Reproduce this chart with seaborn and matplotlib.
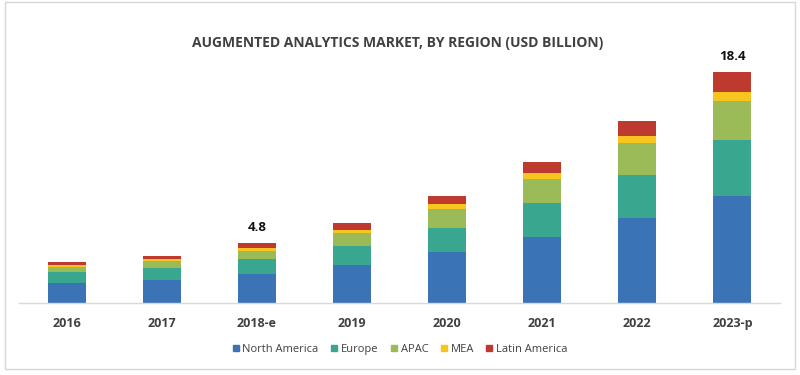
import numpy as np
import pandas as pd
import matplotlib.pyplot as plt
import seaborn as sns
from matplotlib.patches import Rectangle
from matplotlib.lines import Line2D

# ---------------------------------------------------------
# Data (USD billion)
# ---------------------------------------------------------
years = ['2016', '2017', '2018-e', '2019', '2020', '2021', '2022', '2023-p']
regions = ['North America', 'Europe', 'APAC', 'MEA', 'Latin America']

north_america = [1.64, 1.86, 2.31, 3.05, 4.06, 5.31, 6.77, 8.55]
europe = [0.83, 0.93, 1.20, 1.51, 1.96, 2.66, 3.45, 4.46]
apac = [0.45, 0.58, 0.69, 1.06, 1.49, 1.94, 2.57, 3.13]
mea = [0.13, 0.18, 0.24, 0.21, 0.40, 0.50, 0.53, 0.72]
latin_america = [0.21, 0.21, 0.35, 0.53, 0.66, 0.83, 1.22, 1.55]

labels = {'2018-e': '4.8', '2023-p': '18.4'}

colors = ['#3a74b6', '#39a68f', '#9bbb59', '#f7c51e', '#bf3a2e']

df = pd.DataFrame({
    'year': years,
    'North America': north_america,
    'Europe': europe,
    'APAC': apac,
    'MEA': mea,
    'Latin America': latin_america,
})

# cumulative sums, drawn from the tallest down so they look stacked
cum = df[regions].cumsum(axis=1)

plt.rcParams['font.family'] = ['Open Sans', 'DejaVu Sans']

fig = plt.figure(figsize=(8, 3.75), dpi=100)
ax = fig.add_axes([0.02375, 0.191, 0.95125, 0.67])

for reg, col in reversed(list(zip(regions, colors))):
    sns.barplot(x=df['year'], y=cum[reg], color=col, width=0.4,
                saturation=1, ax=ax, linewidth=0)

ax.set_ylim(0, 20)
ax.set_xlim(-0.5, 7.5)
ax.set_xlabel('')
ax.set_ylabel('')
ax.set_yticks([])
for s in ['top', 'right', 'left']:
    ax.spines[s].set_visible(False)
ax.spines['bottom'].set_color('#d9d9d9')
ax.spines['bottom'].set_linewidth(1)
ax.tick_params(axis='x', length=0, pad=10)
for t in ax.get_xticklabels():
    t.set_fontsize(9)
    t.set_fontweight('bold')
    t.set_color('#404040')

totals = cum['Latin America'].values
for i, y in enumerate(years):
    if y in labels:
        ax.text(i, totals[i] + 0.7, labels[y], ha='center', va='bottom',
                fontsize=9.5, fontweight='bold', color='#111111')

fig.text(0.497, 0.885, 'AUGMENTED ANALYTICS MARKET, BY REGION (USD BILLION)',
         ha='center', va='center', fontsize=10, fontweight='bold',
         color='#404040')

handles = [Line2D([], [], marker='s', linestyle='none', markersize=5,
                  markerfacecolor=c, markeredgecolor=c) for c in colors]
fig.legend(handles, regions, loc='center', bbox_to_anchor=(0.5, 0.068),
           ncol=5, frameon=False, fontsize=8, handlelength=0.6,
           handletextpad=0.3, columnspacing=1.1, labelcolor='#404040')

# light frame round the picture
fig.patches.append(Rectangle((0.006, 0.016), 0.988, 0.978,
                             transform=fig.transFigure, fill=False,
                             edgecolor='#d6d6d6', linewidth=1))

fig.savefig('out.png', dpi=100)
